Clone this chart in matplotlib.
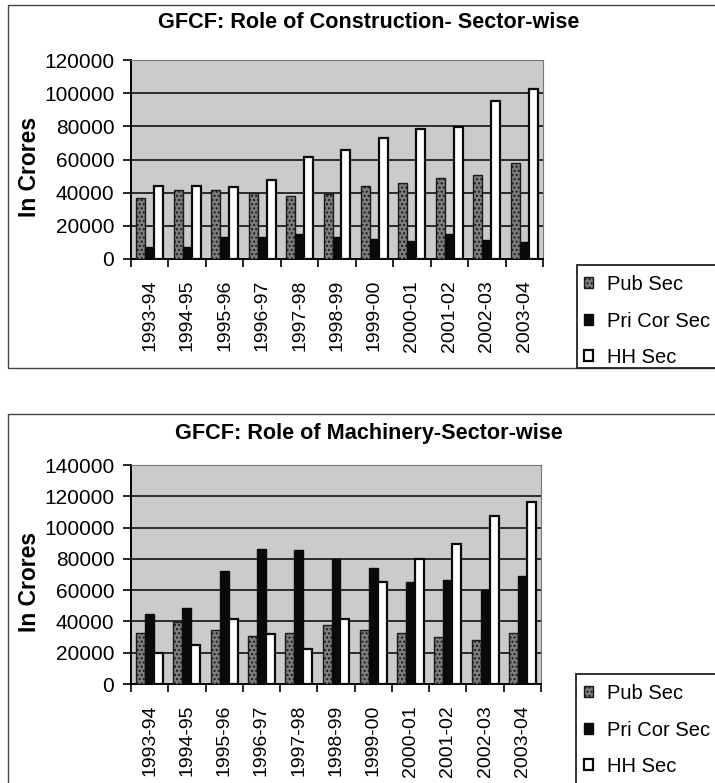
import numpy as np
import matplotlib
matplotlib.use("Agg")
import matplotlib.pyplot as plt
from matplotlib.patches import Rectangle, Patch

plt.rcParams['font.family'] = ['Liberation Sans', 'DejaVu Sans']

years = ['1993-94', '1994-95', '1995-96', '1996-97', '1997-98', '1998-99',
         '1999-00', '2000-01', '2001-02', '2002-03', '2003-04']
series_names = ['Pub Sec', 'Pri Cor Sec', 'HH Sec']

# construction (Rs crores)
con_pub = [37000, 41800, 41400, 39800, 38000, 39400, 43800, 45800, 48800, 50800, 58000]
con_pri = [7400, 7500, 13400, 13400, 14800, 13400, 11800, 10800, 14800, 11400, 10400]
con_hh = [44000, 44000, 43400, 47400, 61400, 66000, 73000, 78400, 79500, 95000, 102400]

# machinery (Rs crores)
mac_pub = [32300, 39800, 34500, 30900, 32300, 37700, 34500, 32300, 30200, 28100, 32300]
mac_pri = [44700, 48300, 72100, 86600, 85500, 79800, 74300, 65300, 66800, 60400, 69200]
mac_hh = [19500, 24900, 41500, 31900, 22300, 41300, 65300, 79800, 89200, 107500, 116400]

W, H = 715, 783
fig = plt.figure(figsize=(W / 100, H / 100), dpi=100)


def fbox(x0, y0, x1, y1):
    return [x0 / W, 1 - y1 / H, (x1 - x0) / W, (y1 - y0) / H]


bar_styles = [
    dict(facecolor='#7e7e7e', edgecolor='#1a1a1a', hatch='....', linewidth=1.0),
    dict(facecolor='#0a0a0a', edgecolor='#0a0a0a', linewidth=1.0),
    dict(facecolor='white', edgecolor='#0a0a0a', linewidth=1.6),
]


def draw_panel(box, title, title_y, data, ymax, frame, legend_box, legend_y):
    # panel border
    fig.patches.append(Rectangle((frame[0] / W, 1 - frame[3] / H),
                                 (frame[2] - frame[0]) / W, (frame[3] - frame[1]) / H,
                                 transform=fig.transFigure, fill=False,
                                 edgecolor='#444444', linewidth=1.0))
    ax = fig.add_axes(fbox(*box))
    ax.set_facecolor('#cbcbcb')
    x = np.arange(len(years))
    w = 0.24
    for i, vals in enumerate(data):
        ax.bar(x + (i - 1) * w, vals, width=w, zorder=3, **bar_styles[i])
    ax.set_xlim(-0.5, len(years) - 0.5)
    ax.set_ylim(0, ymax)
    ax.set_yticks(np.arange(0, ymax + 1, 20000))
    ax.yaxis.grid(True, color='black', linewidth=1.1, zorder=1)
    ax.set_axisbelow(True)
    ax.set_xticks(x)
    ax.set_xticklabels(years, rotation=90, fontsize=14)
    ax.tick_params(axis='x', length=0, pad=15)
    ax.set_xticks(np.arange(-0.5, len(years), 1), minor=True)
    ax.tick_params(axis='x', which='minor', length=6, width=1.2, direction='out')
    ax.tick_params(axis='y', labelsize=15, length=6, width=1.2, pad=6)
    for s in ['left', 'bottom']:
        ax.spines[s].set_linewidth(1.4)
    for s in ['top', 'right']:
        ax.spines[s].set_color('#777777')
        ax.spines[s].set_linewidth(0.8)
        ax.spines[s].set_linestyle((0, (3, 1)))
    ax.set_ylabel('In Crores', fontsize=16.5, fontweight='bold')
    ax.yaxis.set_label_coords((41 - box[0]) / (box[2] - box[0]), 0.465)
    fig.text(369 / W, 1 - title_y / H, title, ha='center', va='center',
             fontsize=15.6, fontweight='bold')
    # legend
    fig.patches.append(Rectangle((legend_box[0] / W, 1 - legend_box[3] / H),
                                 (legend_box[2] - legend_box[0]) / W,
                                 (legend_box[3] - legend_box[1]) / H,
                                 transform=fig.transFigure, facecolor='white',
                                 edgecolor='#222222', linewidth=1.3))
    handles = [Patch(**bar_styles[i], label=series_names[i]) for i in range(3)]
    fig.legend(handles=handles, loc='upper left',
               bbox_to_anchor=(584 / W, 1 - legend_y / H),
               frameon=False, fontsize=14.5, handlelength=0.45, handleheight=0.45,
               handletextpad=0.7, labelspacing=0.87, borderaxespad=0, borderpad=0)
    return ax


draw_panel((131, 60, 543, 259), 'GFCF: Role of Construction- Sector-wise', 23,
           [con_pub, con_pri, con_hh], 120000,
           (8, 5, 730, 368), (577, 265, 730, 368), 275)
draw_panel((131, 465, 541, 684), 'GFCF: Role of Machinery-Sector-wise', 434,
           [mac_pub, mac_pri, mac_hh], 140000,
           (8, 414, 730, 800), (576, 674, 730, 800), 684)

fig.savefig('out.png', dpi=100)
